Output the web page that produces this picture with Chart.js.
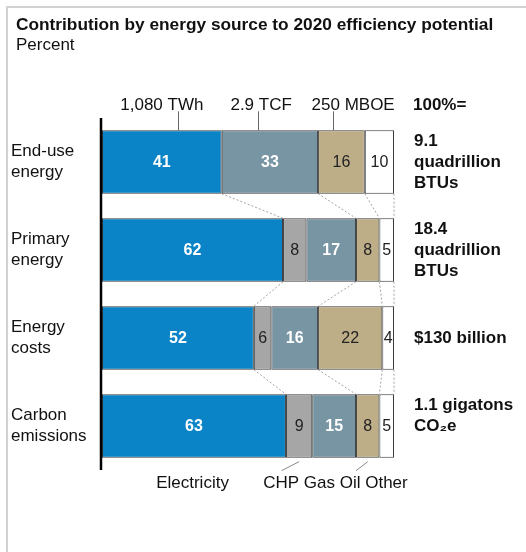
<!DOCTYPE html>
<html>
<head>
<meta charset="utf-8">
<script src="https://cdn.jsdelivr.net/npm/chart.js@4"></script>
<style>
  body { margin: 0; background: #fff; }
  #wrap { width: 526px; height: 552px; }
</style>
</head>
<body>
<div id="wrap"><canvas id="energyChart" width="526" height="552"></canvas></div>
<script>
const categories = [
  ['End-use', 'energy'],
  ['Primary', 'energy'],
  ['Energy', 'costs'],
  ['Carbon', 'emissions'],
];
const electricity = [41, 62, 52, 63];
const chp = [null, 8, 6, 9];
const gas = [33, 17, 16, 15];
const oil = [16, 8, 22, 8];
const other = [10, 5, 4, 5];

const unitLabels = ['1,080 TWh', '2.9 TCF', '250 MBOE'];
const totalHeader = '100%=';
const totals = [
  ['9.1', 'quadrillion', 'BTUs'],
  ['18.4', 'quadrillion', 'BTUs'],
  ['$130 billion'],
  ['1.1 gigatons', 'CO₂e'],
];

const FONT = '"Liberation Sans", Arial, sans-serif';

// value labels inside each segment
const segmentLabels = {
  id: 'segmentLabels',
  afterDatasetsDraw(chart) {
    const ctx = chart.ctx;
    ctx.save();
    ctx.textAlign = 'center';
    ctx.textBaseline = 'middle';
    chart.data.datasets.forEach((ds, di) => {
      const meta = chart.getDatasetMeta(di);
      meta.data.forEach((bar, i) => {
        const v = ds.data[i];
        if (v == null) return;
        ctx.font = (ds.lightText ? 'bold ' : '') + '16px ' + FONT;
        ctx.fillStyle = ds.lightText ? '#ffffff' : '#222222';
        ctx.fillText(String(v), (bar.x + bar.base) / 2, bar.y + 1);
      });
    });
    ctx.restore();
  }
};

// dashed connectors, axis line, frame and all outside text
const decorations = {
  id: 'decorations',
  beforeDatasetsDraw(chart) {
    const ctx = chart.ctx;
    const metas = [0, 2, 3, 4].map(i => chart.getDatasetMeta(i));
    ctx.save();
    ctx.strokeStyle = '#8a8a8a';
    ctx.lineWidth = 0.8;
    ctx.setLineDash([2, 2]);
    for (let i = 0; i < categories.length - 1; i++) {
      metas.forEach(meta => {
        const a = meta.data[i], b = meta.data[i + 1];
        ctx.beginPath();
        ctx.moveTo(a.x, a.y + a.height / 2);
        ctx.lineTo(b.x, b.y - b.height / 2);
        ctx.stroke();
      });
    }
    ctx.restore();
  },
  afterDraw(chart) {
    const ctx = chart.ctx;
    const area = chart.chartArea;
    const xs = chart.scales.x;
    const ys = chart.scales.y;
    ctx.save();

    // frame
    ctx.strokeStyle = '#d2d2d2';
    ctx.lineWidth = 2;
    ctx.beginPath();
    ctx.moveTo(7, chart.height);
    ctx.lineTo(7, 7);
    ctx.lineTo(chart.width, 7);
    ctx.stroke();

    // title
    ctx.fillStyle = '#111';
    ctx.textAlign = 'left';
    ctx.textBaseline = 'alphabetic';
    ctx.font = 'bold 17.3px ' + FONT;
    ctx.fillText('Contribution by energy source to 2020 efficiency potential', 16, 30);
    ctx.font = '17px ' + FONT;
    ctx.fillText('Percent', 16, 50);

    // axis line
    ctx.strokeStyle = '#000';
    ctx.lineWidth = 2.5;
    ctx.beginPath();
    ctx.moveTo(area.left - 1, area.top);
    ctx.lineTo(area.left - 1, area.bottom);
    ctx.stroke();

    // unit labels with pointers
    const top0 = chart.getDatasetMeta(0).data[0];
    const barTop = top0.y - top0.height / 2;
    const pointerAt = [26, 53.5, 79];
    const labelAt = [20.5, 54.5, 86];
    ctx.strokeStyle = '#666';
    ctx.lineWidth = 1;
    ctx.font = '17px ' + FONT;
    ctx.textAlign = 'center';
    unitLabels.forEach((t, i) => {
      const px = Math.round(xs.getPixelForValue(pointerAt[i])) + 0.5;
      ctx.beginPath();
      ctx.moveTo(px, barTop - 19);
      ctx.lineTo(px, barTop);
      ctx.stroke();
      ctx.fillText(t, xs.getPixelForValue(labelAt[i]), 110);
    });
    ctx.font = 'bold 17px ' + FONT;
    ctx.textAlign = 'left';
    ctx.fillText(totalHeader, area.right + 19, 110);

    // category labels
    ctx.font = '17px ' + FONT;
    ctx.textBaseline = 'middle';
    categories.forEach((lines, i) => {
      const cy = ys.getPixelForValue(i);
      lines.forEach((l, j) => {
        ctx.fillText(l, 11, cy + (j - (lines.length - 1) / 2) * 21);
      });
    });

    // totals on the right
    ctx.font = 'bold 17px ' + FONT;
    totals.forEach((lines, i) => {
      const bar = chart.getDatasetMeta(0).data[i];
      const bt = bar.y - bar.height / 2;
      lines.forEach((l, j) => {
        const y = lines.length === 1 ? bar.y : bt + 11 + j * 21;
        ctx.fillText(l, area.right + 20, y);
      });
    });

    // legend labels under the bars
    const last = chart.getDatasetMeta(0).data[categories.length - 1];
    const lb = last.y + last.height / 2;
    ctx.font = '17px ' + FONT;
    ctx.textAlign = 'center';
    ctx.fillText('Electricity', xs.getPixelForValue(31), lb + 26);
    ctx.textAlign = 'left';
    ctx.fillText('CHP Gas Oil Other', xs.getPixelForValue(55.2), lb + 26);

    ctx.strokeStyle = '#888';
    ctx.lineWidth = 1;
    const leaders = [[67.5, 61.5], [91, 87]];
    leaders.forEach(([a, b]) => {
      ctx.beginPath();
      ctx.moveTo(xs.getPixelForValue(a), lb + 4);
      ctx.lineTo(xs.getPixelForValue(b), lb + 13);
      ctx.stroke();
    });

    ctx.restore();
  }
};

const barStyle = {
  borderColor: '#3a3a3a',
  borderWidth: 1,
  borderSkipped: false,
  barPercentage: 0.72,
  categoryPercentage: 1,
};

new Chart(document.getElementById('energyChart'), {
  type: 'bar',
  data: {
    labels: categories,
    datasets: [
      { label: 'Electricity', data: electricity, backgroundColor: '#0a84c6', lightText: true, ...barStyle },
      { label: 'CHP', data: chp, backgroundColor: '#a6a6a6', ...barStyle },
      { label: 'Gas', data: gas, backgroundColor: '#7895a4', lightText: true, ...barStyle },
      { label: 'Oil', data: oil, backgroundColor: '#bdae88', ...barStyle },
      { label: 'Other', data: other, backgroundColor: '#ffffff', ...barStyle },
    ],
  },
  options: {
    indexAxis: 'y',
    responsive: false,
    animation: false,
    layout: {
      padding: { left: 102, right: 132, top: 118, bottom: 82 },
    },
    plugins: {
      legend: { display: false },
      tooltip: { enabled: false },
    },
    scales: {
      x: { stacked: true, min: 0, max: 100, display: false },
      y: { stacked: true, display: false },
    },
  },
  plugins: [segmentLabels, decorations],
});
</script>
</body>
</html>
